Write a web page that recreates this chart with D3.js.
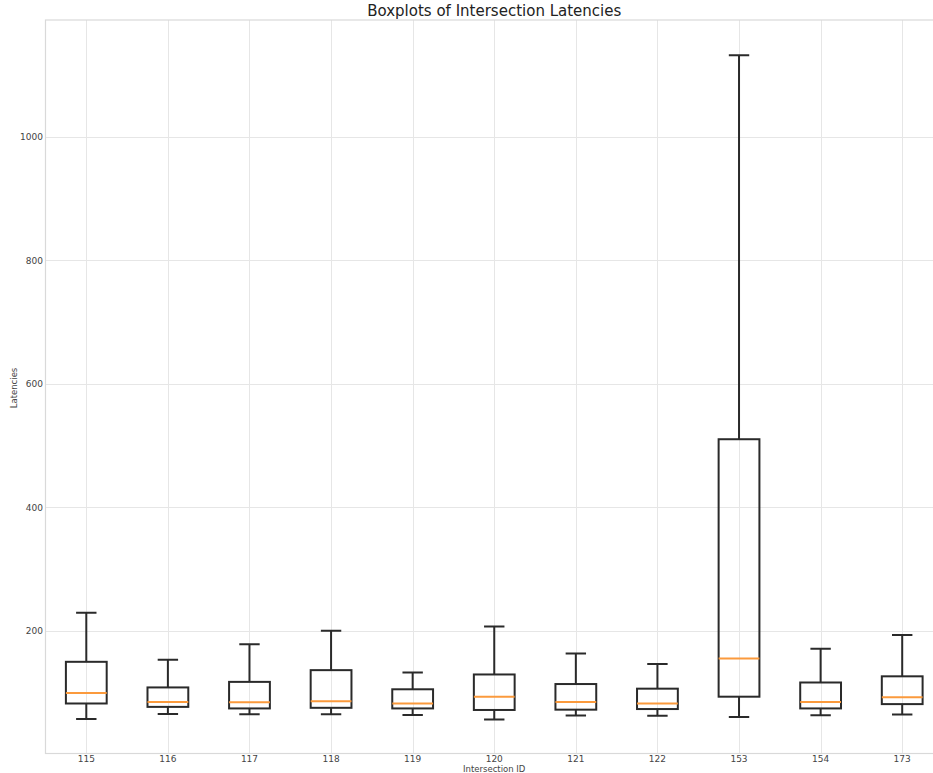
<!DOCTYPE html>
<html>
<head>
<meta charset="utf-8">
<script src="https://cdn.jsdelivr.net/npm/d3@7"></script>
<style>
  html, body { margin: 0; padding: 0; background: #fff; }
  svg { display: block; font-family: "DejaVu Sans", sans-serif; }
</style>
</head>
<body>
<svg id="chart" width="933" height="773"></svg>
<script>
// Intersection IDs and their latency box statistics
const intersections = ["115", "116", "117", "118", "119", "120", "121", "122", "153", "154", "173"];
const whiskerLow  = [57, 65, 64.5, 64.5, 63.5, 56, 62.5, 62, 60, 63, 64];
const quartile1   = [82, 76.5, 74, 75, 74, 71.5, 72, 73, 93, 74, 81];
const medians     = [99, 84.5, 84, 85.5, 82, 93, 84.5, 82, 155, 84.5, 92];
const quartile3   = [149.5, 108, 117, 136, 105, 129, 113.5, 106, 510, 116, 126];
const whiskerHigh = [229, 153, 178, 200, 132, 206.5, 163, 146, 1132, 170.5, 193];
const yTicks = [200, 400, 600, 800, 1000];

const boxes = intersections.map((id, i) => ({
  id, pos: i + 1,
  lo: whiskerLow[i], q1: quartile1[i], med: medians[i], q3: quartile3[i], hi: whiskerHigh[i]
}));

const svg = d3.select("#chart");
const plotL = 45.5, plotT = 20, plotB = 753.5, plotR = 943;

const x = d3.scaleLinear().domain([0.5, intersections.length + 0.5]).range([plotL, plotR]);
const y = d3.scaleLinear().domain([1, 1189]).range([plotB, plotT]);

svg.append("defs").append("clipPath").attr("id", "plotclip")
  .append("rect").attr("x", plotL).attr("y", plotT).attr("width", plotR - plotL).attr("height", plotB - plotT);

const plot = svg.append("g").attr("clip-path", "url(#plotclip)");

// grid
plot.append("g").selectAll("line").data(boxes).join("line")
  .attr("x1", d => Math.round(x(d.pos)) + 0.5).attr("x2", d => Math.round(x(d.pos)) + 0.5)
  .attr("y1", plotT).attr("y2", plotB)
  .attr("stroke", "#e6e6e6").attr("stroke-width", 1);
plot.append("g").selectAll("line").data(yTicks).join("line")
  .attr("x1", plotL).attr("x2", plotR)
  .attr("y1", d => Math.round(y(d)) + 0.5).attr("y2", d => Math.round(y(d)) + 0.5)
  .attr("stroke", "#e6e6e6").attr("stroke-width", 1);

// frame
svg.append("rect").attr("x", plotL).attr("y", plotT).attr("width", plotR - plotL).attr("height", plotB - plotT)
  .attr("fill", "none").attr("stroke", "#d9d9d9").attr("stroke-width", 1.2);

const boxW = x(1.5) - x(1);      // box width 0.5 in data units
const capW = boxW / 2;
const ink = "#2a2a2a";

const g = plot.append("g").selectAll("g").data(boxes).join("g");

// whiskers
g.append("line").attr("x1", d => x(d.pos)).attr("x2", d => x(d.pos))
  .attr("y1", d => y(d.q3)).attr("y2", d => y(d.hi)).attr("stroke", ink).attr("stroke-width", 2);
g.append("line").attr("x1", d => x(d.pos)).attr("x2", d => x(d.pos))
  .attr("y1", d => y(d.q1)).attr("y2", d => y(d.lo)).attr("stroke", ink).attr("stroke-width", 2);
// caps
g.append("line").attr("x1", d => x(d.pos) - capW / 2).attr("x2", d => x(d.pos) + capW / 2)
  .attr("y1", d => y(d.hi)).attr("y2", d => y(d.hi)).attr("stroke", ink).attr("stroke-width", 2);
g.append("line").attr("x1", d => x(d.pos) - capW / 2).attr("x2", d => x(d.pos) + capW / 2)
  .attr("y1", d => y(d.lo)).attr("y2", d => y(d.lo)).attr("stroke", ink).attr("stroke-width", 2);
// box
g.append("rect").attr("x", d => x(d.pos) - boxW / 2).attr("width", boxW)
  .attr("y", d => y(d.q3)).attr("height", d => y(d.q1) - y(d.q3))
  .attr("fill", "none").attr("stroke", ink).attr("stroke-width", 2);
// median
g.append("line").attr("x1", d => x(d.pos) - boxW / 2).attr("x2", d => x(d.pos) + boxW / 2)
  .attr("y1", d => y(d.med)).attr("y2", d => y(d.med)).attr("stroke", "#fb9a3c").attr("stroke-width", 2);

// tick labels
svg.append("g").selectAll("text").data(boxes).join("text")
  .attr("x", d => x(d.pos)).attr("y", 762)
  .attr("text-anchor", "middle").attr("font-size", 9).attr("fill", "#444")
  .text(d => d.id);
svg.append("g").selectAll("text").data(yTicks).join("text")
  .attr("x", 43).attr("y", d => y(d) + 3.5)
  .attr("text-anchor", "end").attr("font-size", 9).attr("fill", "#444")
  .text(d => d);

// axis titles
svg.append("text").attr("x", (plotL + plotR) / 2).attr("y", 772)
  .attr("text-anchor", "middle").attr("font-size", 8.5).attr("fill", "#444")
  .text("Intersection ID");
svg.append("text").attr("transform", "translate(17,388) rotate(-90)")
  .attr("text-anchor", "middle").attr("font-size", 8.5).attr("fill", "#444")
  .text("Latencies");
svg.append("text").attr("x", (plotL + plotR) / 2).attr("y", 16)
  .attr("text-anchor", "middle").attr("font-size", 15).attr("fill", "#222")
  .text("Boxplots of Intersection Latencies");
</script>
</body>
</html>
